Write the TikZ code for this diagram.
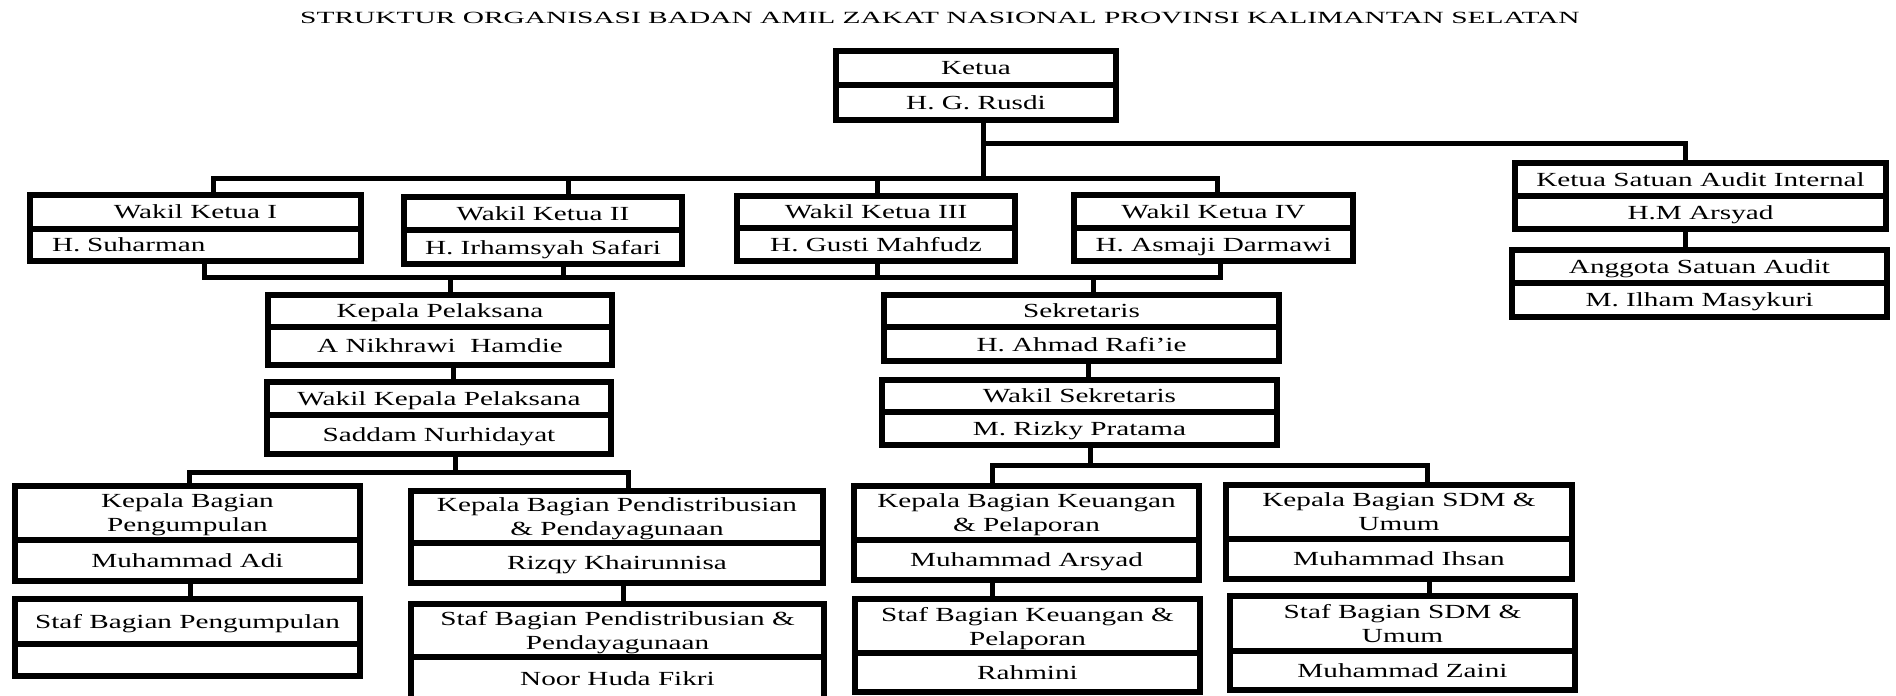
\documentclass[tikz,border=0pt]{standalone}
\usepackage{fontspec}
\setmainfont{Liberation Serif}[FakeStretch=1.46]
\newfontfamily\titlefont{Liberation Serif}[FakeStretch=1.72]
\tikzset{
  cell/.style={draw, line width=2.6pt, inner sep=0pt, align=center, text depth=-5pt,
    font=\fontsize{10}{12}\selectfont},
  conn/.style={draw, line width=2.5pt},
}
\newcommand\orgcell[7][]{%
  \pgfmathsetmacro\orgw{(#5-#3)*0.5}%
  \pgfmathsetmacro\orgh{(#6-#4)*0.5}%
  \node[cell, minimum width=\orgw pt, minimum height=\orgh pt, #1] (#2) at ({(#3+#5)/2},{(#4+#6)/2}) {#7};}
\begin{document}
\begin{tikzpicture}[x=0.5pt, y=-0.5pt]
\useasboundingbox (0,0) rectangle (1896,696);
\clip (0,0) rectangle (1896,696);

\node[font=\titlefont\fontsize{8.55}{10}\selectfont, anchor=base] (title) at (940,24)
  {STRUKTUR ORGANISASI BADAN AMIL ZAKAT NASIONAL PROVINSI KALIMANTAN SELATAN};

% Ketua
\orgcell{ketua}{836}{51}{1116}{85}{Ketua}
\orgcell{ketuaN}{836}{85}{1116}{120}{H. G. Rusdi}

% Wakil Ketua
\orgcell{wk1}{30}{195}{361}{229}{Wakil Ketua I}
\orgcell[text width=143.5pt, align=left]{wk1N}{30}{229}{361}{261}{H. Suharman}
\orgcell{wk2}{404}{197}{682}{230}{Wakil Ketua II}
\orgcell{wk2N}{404}{230}{682}{264}{H. Irhamsyah Safari}
\orgcell{wk3}{737}{196}{1015}{228}{Wakil Ketua III}
\orgcell{wk3N}{737}{228}{1015}{261}{H. Gusti Mahfudz}
\orgcell{wk4}{1074}{195}{1353}{228}{Wakil Ketua IV}
\orgcell{wk4N}{1074}{228}{1353}{261}{H. Asmaji Darmawi}

% Audit
\orgcell{ksai}{1515}{163}{1886}{196}{Ketua Satuan Audit Internal}
\orgcell{ksaiN}{1515}{196}{1886}{229}{H.M Arsyad}
\orgcell{ang}{1512}{250}{1887}{283}{Anggota Satuan Audit}
\orgcell{angN}{1512}{283}{1887}{317}{M. Ilham Masykuri}

% Pelaksana / Sekretaris
\orgcell{kp}{268}{295}{612}{327}{Kepala Pelaksana}
\orgcell{kpN}{268}{327}{612}{365}{A Nikhrawi\ \ Hamdie}
\orgcell{wkp}{267}{382}{611}{415}{Wakil Kepala Pelaksana}
\orgcell{wkpN}{267}{415}{611}{454}{Saddam Nurhidayat}
\orgcell{sek}{884}{295}{1279}{327}{Sekretaris}
\orgcell{sekN}{884}{327}{1279}{361}{H. Ahmad Rafi’ie}
\orgcell{ws}{882}{380}{1277}{412}{Wakil Sekretaris}
\orgcell{wsN}{882}{412}{1277}{445}{M. Rizky Pratama}

% Bagian
\orgcell{pgm}{15}{486}{360}{540}{Kepala Bagian\\Pengumpulan}
\orgcell{pgmN}{15}{540}{360}{581}{Muhammad Adi}
\orgcell{spgm}{15}{599}{360}{644}{Staf Bagian Pengumpulan}
\orgcell{spgmN}{15}{644}{360}{676}{}
\orgcell{pds}{411}{491}{823}{543}{Kepala Bagian Pendistribusian\\\& Pendayagunaan}
\orgcell{pdsN}{411}{543}{823}{583}{Rizqy Khairunnisa}
\orgcell{spds}{411}{604}{824}{657}{Staf Bagian Pendistribusian \&\\Pendayagunaan}
\orgcell{spdsN}{411}{657}{824}{700}{Noor Huda Fikri}
\orgcell{keu}{854}{486}{1199}{540}{Kepala Bagian Keuangan\\\& Pelaporan}
\orgcell{keuN}{854}{540}{1199}{580}{Muhammad Arsyad}
\orgcell{skeu}{855}{599}{1200}{653}{Staf Bagian Keuangan \&\\Pelaporan}
\orgcell{skeuN}{855}{653}{1200}{692}{Rahmini}
\orgcell{sdm}{1226}{485}{1572}{539}{Kepala Bagian SDM \&\\Umum}
\orgcell{sdmN}{1226}{539}{1572}{579}{Muhammad Ihsan}
\orgcell{ssdm}{1230}{596}{1575}{651}{Staf Bagian SDM \&\\Umum}
\orgcell{ssdmN}{1230}{651}{1575}{690}{Muhammad Zaini}

% junction coordinates
\coordinate (kd) at (983,178);
\coordinate (ab) at (1685,143);
\coordinate (b1) at (213,178);
\coordinate (b2) at (568,178);
\coordinate (b3) at (877,178);
\coordinate (b4) at (1217,178);
\coordinate (r1) at (204,277);
\coordinate (r2) at (563,277);
\coordinate (r3) at (877,277);
\coordinate (r4) at (1220,277);
\coordinate (d1) at (450,277);
\coordinate (d2) at (1093,277);
\coordinate (a1) at (1685,240);
\coordinate (j1) at (453,372);
\coordinate (j2) at (1088,370);
\coordinate (lb) at (455,472);
\coordinate (l1) at (189,472);
\coordinate (l2) at (628,472);
\coordinate (j3) at (190,590);
\coordinate (j4) at (623,593);
\coordinate (rb) at (1090,465);
\coordinate (q1) at (992,465);
\coordinate (q2) at (1427,465);
\coordinate (j5) at (992,590);
\coordinate (j6) at (1429,588);

% connectors
\draw[conn] (kd |- ketuaN.south) -- (kd);
\draw[conn] (kd |- ab) -- (ab) -- (ab |- ksai.north);
\draw[conn] (b1 |- wk1.north) -- (b1) -- (b4) -- (b4 |- wk4.north);
\draw[conn] (b2) -- (b2 |- wk2.north);
\draw[conn] (b3) -- (b3 |- wk3.north);
\draw[conn] (r1 |- wk1N.south) -- (r1) -- (r4) -- (r4 |- wk4N.south);
\draw[conn] (r2 |- wk2N.south) -- (r2);
\draw[conn] (r3 |- wk3N.south) -- (r3);
\draw[conn] (d1) -- (d1 |- kp.north);
\draw[conn] (d2) -- (d2 |- sek.north);
\draw[conn] (a1 |- ksaiN.south) -- (a1 |- ang.north);
\draw[conn] (j1 |- kpN.south) -- (j1 |- wkp.north);
\draw[conn] (j2 |- sekN.south) -- (j2 |- ws.north);
\draw[conn] (lb |- wkpN.south) -- (lb);
\draw[conn] (l1 |- pgm.north) -- (l1) -- (l2) -- (l2 |- pds.north);
\draw[conn] (j3 |- pgmN.south) -- (j3 |- spgm.north);
\draw[conn] (j4 |- pdsN.south) -- (j4 |- spds.north);
\draw[conn] (rb |- wsN.south) -- (rb);
\draw[conn] (q1 |- keu.north) -- (q1) -- (q2) -- (q2 |- sdm.north);
\draw[conn] (j5 |- keuN.south) -- (j5 |- skeu.north);
\draw[conn] (j6 |- sdmN.south) -- (j6 |- ssdm.north);
\end{tikzpicture}
\end{document}
